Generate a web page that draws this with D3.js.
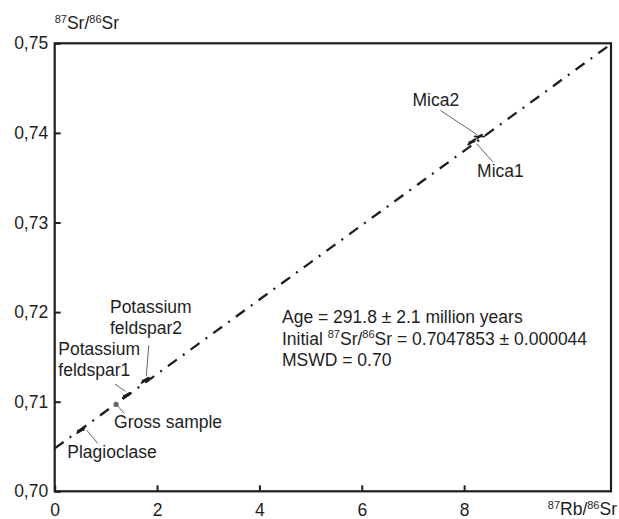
<!DOCTYPE html>
<html>
<head>
<meta charset="utf-8">
<script src="https://cdn.jsdelivr.net/npm/d3@7"></script>
<style>
  html, body { margin: 0; padding: 0; background: #fff; }
  svg { display: block; font-family: "Liberation Sans", Arial, sans-serif; }
</style>
</head>
<body>
<svg id="chart" width="619" height="519"></svg>
<script>
// Rb-Sr isochron, values
var samples = ["Plagioclase", "Gross sample", "Potassium feldspar1", "Potassium feldspar2", "Mica1", "Mica2"];
var rbSr = [0.51, 1.20, 1.40, 1.77, 8.15, 8.30];
var srSr = [0.7068, 0.7097, 0.7107, 0.7124, 0.7390, 0.7396];
var markerKind = ["dash", "dot", "dash", "dash", "dash", "bar"];

var xTicks = [0, 2, 4, 6, 8];
var yTicks = [0.70, 0.71, 0.72, 0.73, 0.74, 0.75];
var xDomain = [0, 10.87];
var yDomain = [0.70, 0.75];

var isoIntercept = 0.7047853;
var isoSlope = 0.004152;   // e^(lambda*t) - 1 for 291.8 Ma
var isoX = [0, 10.87];

var statLines = [
  ["Age = 291.8 \u00b1 2.1 million years"],
  ["Initial ", "87", "Sr/", "86", "Sr = 0.7047853 \u00b1 0.000044"],
  ["MSWD = 0.70"]
];
var yTitle = ["", "87", "Sr/", "86", "Sr"];
var xTitle = ["", "87", "Rb/", "86", "Sr"];

// label placement, offsets in px from the sample point
var labelLayout = [
  { dx: -13.5, dy: 28, lead: [6, 0, 17, 13] },
  { dx: -2, dy: 24, lead: [2, 2, 8, 9] },
  { dx: -68, dy: -40.4, lead: [-11.5, -11.5, -1, -4] },
  { dx: -35.3, dy: -67.5, lead: [3.5, -35, 1, -4] },
  { dx: 5.3, dy: 35.4, lead: [5, 2, 21, 20] },
  { dx: -67, dy: -30.5, lead: [-39, -26, -2, -1.5] }
];

var m = { left: 54.7, top: 43.3, right: 611, bottom: 491.3 };
var FS = 17.5, SUP = 11;
var ink = "#1e1e1e";

var x = d3.scaleLinear().domain(xDomain).range([m.left, m.right]);
var y = d3.scaleLinear().domain(yDomain).range([m.bottom, m.top]);

var svg = d3.select("#chart");

function fmtY(d) {
  return d3.format(".2f")(d).replace(".", ",");
}

// axes (ticks point inward)
var gy = svg.append("g")
  .attr("transform", "translate(" + m.left + ",0)")
  .call(d3.axisLeft(y).tickValues(yTicks).tickFormat(fmtY)
    .tickSizeInner(-6).tickSizeOuter(0).tickPadding(6.5));
var gx = svg.append("g")
  .attr("transform", "translate(0," + m.bottom + ")")
  .call(d3.axisBottom(x).tickValues(xTicks).tickFormat(d3.format("d"))
    .tickSizeInner(-6).tickSizeOuter(0).tickPadding(12.5));

[gx, gy].forEach(function (g) {
  g.select(".domain").remove();
  g.selectAll(".tick line").attr("stroke", ink).attr("stroke-width", 2);
  g.selectAll(".tick text")
    .attr("fill", ink)
    .style("font-size", FS + "px")
    .style("font-family", "'Liberation Sans', Arial, sans-serif");
});

// frame
svg.append("rect")
  .attr("x", m.left).attr("y", m.top)
  .attr("width", m.right - m.left).attr("height", m.bottom - m.top)
  .attr("fill", "none").attr("stroke", ink).attr("stroke-width", 2.2);

// isochron
var isoLine = d3.line()
  .x(function (d) { return x(d); })
  .y(function (d) { return y(isoIntercept + isoSlope * d); });

svg.append("path")
  .datum(isoX)
  .attr("d", isoLine)
  .attr("fill", "none")
  .attr("stroke", ink)
  .attr("stroke-width", 2.3)
  .attr("stroke-dasharray", "11,7.5,2,7.5");

var angle = Math.atan2(y(isoIntercept + isoSlope) - y(isoIntercept), x(1) - x(0)) * 180 / Math.PI;

// sample markers + labels
var pts = samples.map(function (s, i) {
  return { name: s, px: x(rbSr[i]), py: y(srSr[i]), kind: markerKind[i], lay: labelLayout[i] };
});

var g = svg.append("g");

g.selectAll("line.lead")
  .data(pts)
  .join("line")
  .attr("class", "lead")
  .attr("x1", function (d) { return d.px + d.lay.lead[0]; })
  .attr("y1", function (d) { return d.py + d.lay.lead[1]; })
  .attr("x2", function (d) { return d.px + d.lay.lead[2]; })
  .attr("y2", function (d) { return d.py + d.lay.lead[3]; })
  .attr("stroke", "#555")
  .attr("stroke-width", 0.9);

var mk = g.selectAll("g.mk")
  .data(pts)
  .join("g")
  .attr("class", "mk")
  .attr("transform", function (d) { return "translate(" + d.px + "," + d.py + ")"; });

mk.filter(function (d) { return d.kind === "dot"; })
  .append("circle").attr("r", 2.6).attr("fill", "#666");

mk.filter(function (d) { return d.kind === "dash"; })
  .append("ellipse")
  .attr("rx", 5.5).attr("ry", 1.4)
  .attr("transform", "rotate(" + angle + ")")
  .attr("fill", ink);

mk.filter(function (d) { return d.kind === "dash"; })
  .append("line")
  .attr("x1", -3.5).attr("x2", 3.5)
  .attr("stroke", ink).attr("stroke-width", 1.2);

mk.filter(function (d) { return d.kind === "bar"; })
  .append("line")
  .attr("x1", -5.7).attr("x2", 5.7)
  .attr("stroke", ink).attr("stroke-width", 1.6);

mk.filter(function (d) { return d.kind === "bar"; })
  .append("ellipse")
  .attr("rx", 4).attr("ry", 1.3)
  .attr("transform", "rotate(" + angle + ")")
  .attr("fill", ink);

var lbl = g.selectAll("text.lbl")
  .data(pts)
  .join("text")
  .attr("class", "lbl")
  .attr("x", function (d) { return d.px + d.lay.dx; })
  .attr("y", function (d) { return d.py + d.lay.dy; })
  .attr("fill", ink)
  .style("font-size", FS + "px");

lbl.each(function (d) {
  var words = d.name.indexOf("Potassium") === 0 ? d.name.split(" ") : [d.name];
  var t = d3.select(this);
  words.forEach(function (w, k) {
    t.append("tspan")
      .attr("x", d.px + d.lay.dx)
      .attr("dy", k === 0 ? 0 : 21.3)
      .text(w);
  });
});

// superscripted text helper: parts alternate normal / superscript
function supText(sel, parts) {
  parts.forEach(function (p, i) {
    var isSup = parts.length > 1 && i % 2 === 1;
    sel.append("tspan")
      .attr("dy", isSup ? -6.5 : (i > 0 ? 6.5 : 0))
      .style("font-size", (isSup ? SUP : FS) + "px")
      .text(p);
  });
}

// axis titles
supText(svg.append("text").attr("x", m.left).attr("y", 29).attr("fill", ink), yTitle);
supText(svg.append("text").attr("x", 617).attr("y", 515)
  .attr("text-anchor", "end").attr("fill", ink), xTitle);

// fit statistics
statLines.forEach(function (parts, i) {
  supText(svg.append("text").attr("x", 282).attr("y", 323.3 + i * 21.4).attr("fill", ink), parts);
});
</script>
</body>
</html>
